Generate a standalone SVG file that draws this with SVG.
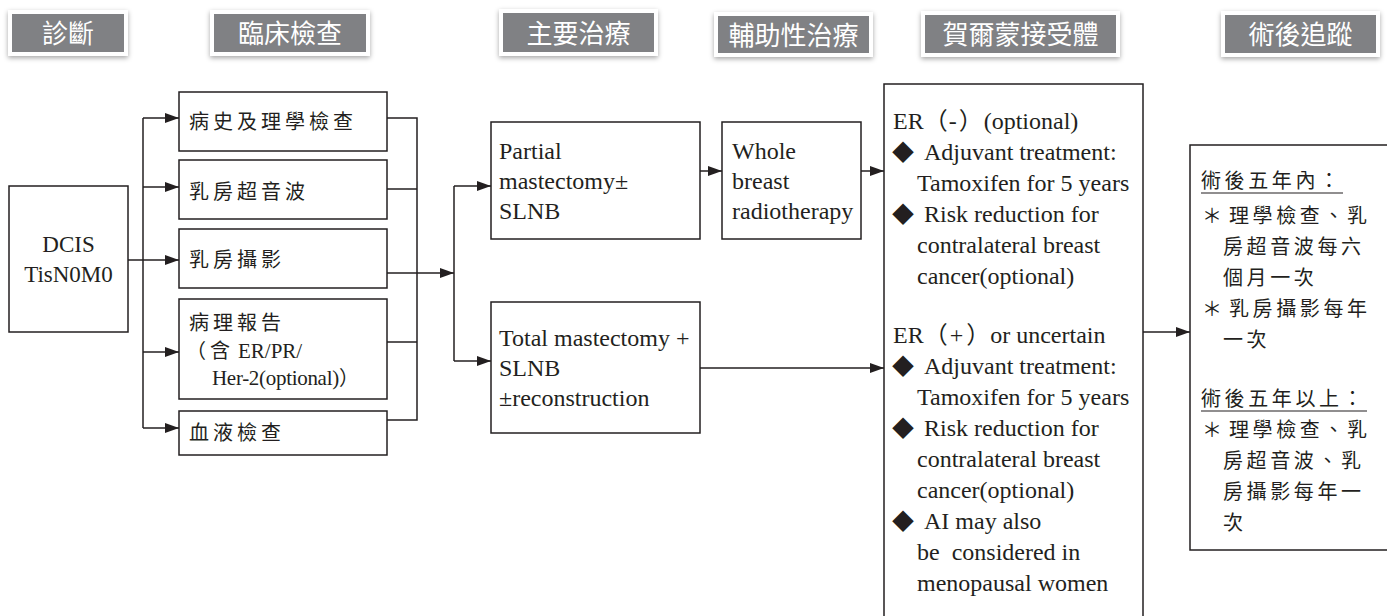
<svg xmlns="http://www.w3.org/2000/svg" width="1387" height="616" viewBox="0 0 1387 616">
<style>
.box{fill:#fff;stroke:#231f20;stroke-width:1.5}
.ln{fill:none;stroke:#231f20;stroke-width:1.5}
.ar{fill:none;stroke:#231f20;stroke-width:1.5;marker-end:url(#ah)}
.en{font-family:"Liberation Serif","Noto Sans CJK TC",serif;font-size:24px;fill:#231f20}
.cj{font-family:"Liberation Serif","Noto Sans CJK TC",sans-serif;font-size:20px;letter-spacing:4px;fill:#231f20}
.fu{font-family:"Liberation Serif","Noto Sans CJK TC",sans-serif;font-size:20px;letter-spacing:3.6px;fill:#231f20}
.dm{font-family:"Noto Sans CJK TC","DejaVu Sans",sans-serif;font-size:22px;fill:#231f20}
.pr{font-family:"Noto Sans CJK TC",sans-serif;font-size:24px}
.hr{fill:#808184;stroke:#fff;stroke-width:4;filter:url(#sh)}
.ht{font-family:"Noto Sans CJK TC",sans-serif;font-size:26px;fill:#fff;text-anchor:middle}
.ul{stroke:#231f20;stroke-width:1.2}
</style>
<defs>
<marker id="ah" markerUnits="userSpaceOnUse" markerWidth="14" markerHeight="10" refX="14" refY="5" orient="auto">
<path d="M0,0 L14,5 L0,10 z" fill="#231f20"/>
</marker>
<filter id="sh" x="-20%" y="-40%" width="140%" height="180%">
<feDropShadow dx="0" dy="2" stdDeviation="2.5" flood-color="#000" flood-opacity="0.35"/>
</filter>
</defs>
<rect width="1387" height="616" fill="#fff"/>

<g id="headers">
<g id="h1"><rect class="hr" x="10" y="12" width="116" height="42"/><text class="ht" x="68" y="43">診斷</text></g>
<g id="h2"><rect class="hr" x="212" y="12" width="156" height="42"/><text class="ht" x="290" y="43">臨床檢查</text></g>
<g id="h3"><rect class="hr" x="501" y="11" width="155" height="43"/><text class="ht" x="578.5" y="43">主要治療</text></g>
<g id="h4"><rect class="hr" x="716" y="14" width="155" height="41"/><text class="ht" x="793.5" y="45">輔助性治療</text></g>
<g id="h5"><rect class="hr" x="923" y="13" width="195" height="42"/><text class="ht" x="1020.5" y="44">賀爾蒙接受體</text></g>
<g id="h6"><rect class="hr" x="1223" y="13" width="155" height="42"/><text class="ht" x="1300.5" y="44">術後追蹤</text></g>
</g>

<g id="connectors">
<path class="ar" d="M128,260 H179"/>
<path class="ln" d="M143,118 V428"/>
<path class="ar" d="M143,118 H179"/>
<path class="ar" d="M143,187 H179"/>
<path class="ar" d="M143,352 H179"/>
<path class="ar" d="M143,428 H179"/>
<path class="ln" d="M387,118 H417 V420 H387"/>
<path class="ln" d="M387,189 H417"/>
<path class="ln" d="M387,342 H417"/>
<path class="ar" d="M387,273 H454"/>
<path class="ln" d="M454,186 V361"/>
<path class="ar" d="M454,186 H491"/>
<path class="ar" d="M454,361 H491"/>
<path class="ar" d="M700,171 H722"/>
<path class="ar" d="M861,171 H884"/>
<path class="ar" d="M700,368 H884"/>
<path class="ar" d="M1143,332 H1190"/>
</g>

<g id="dcis">
<rect class="box" x="9" y="186" width="119" height="146"/>
<text class="en" style="font-size:23px" x="68.5" y="252" text-anchor="middle">DCIS</text>
<text class="en" style="font-size:23px" x="68.5" y="282" text-anchor="middle">TisN0M0</text>
</g>

<g id="exam1"><rect class="box" x="179" y="92" width="208" height="59"/><text class="cj" x="189" y="129">病史及理學檢查</text></g>
<g id="exam2"><rect class="box" x="179" y="160" width="208" height="59"/><text class="cj" x="189" y="199">乳房超音波</text></g>
<g id="exam3"><rect class="box" x="179" y="229" width="208" height="59"/><text class="cj" x="189" y="267">乳房攝影</text></g>
<g id="exam4"><rect class="box" x="179" y="299" width="208" height="100"/>
<text class="cj" x="189" y="330">病理報告</text>
<text class="cj" style="letter-spacing:0" y="358"><tspan x="186">（</tspan><tspan x="210">含</tspan><tspan x="238" style="font-size:21px">ER/PR/</tspan></text>
<text class="cj" style="letter-spacing:0" y="385"><tspan x="212" style="font-size:21px;letter-spacing:-0.3px">Her-2(optional)</tspan><tspan>）</tspan></text>
</g>
<g id="exam5"><rect class="box" x="179" y="411" width="208" height="44"/><text class="cj" x="189" y="440">血液檢查</text></g>

<g id="partial"><rect class="box" x="491" y="122" width="209" height="117"/>
<text class="en" x="499" y="159">Partial</text>
<text class="en" x="499" y="189">mastectomy±</text>
<text class="en" x="499" y="219">SLNB</text></g>

<g id="whole"><rect class="box" x="722" y="122" width="139" height="117"/>
<text class="en" x="732" y="159">Whole</text>
<text class="en" x="732" y="189">breast</text>
<text class="en" x="732" y="219">radiotherapy</text></g>

<g id="total"><rect class="box" x="491" y="302" width="209" height="131"/>
<text class="en" x="499" y="346">Total mastectomy +</text>
<text class="en" x="499" y="376">SLNB</text>
<text class="en" x="499" y="406">±reconstruction</text></g>

<g id="hormone"><rect class="box" x="884" y="84" width="259" height="545"/>
<text class="en" x="893" y="129">ER<tspan class="pr">（</tspan><tspan dx="1">-</tspan><tspan class="pr" dx="2">）</tspan><tspan dx="1">(optional)</tspan></text>
<text class="dm" x="892" y="160">◆</text><text class="en" x="924" y="160">Adjuvant treatment:</text>
<text class="en" x="917" y="191">Tamoxifen for 5 years</text>
<text class="dm" x="892" y="222">◆</text><text class="en" x="924" y="222">Risk reduction for</text>
<text class="en" x="917" y="253">contralateral breast</text>
<text class="en" x="917" y="284">cancer(optional)</text>
<text class="en" x="893" y="343">ER<tspan class="pr">（</tspan><tspan dx="2">+</tspan><tspan class="pr" dx="3">）</tspan>or uncertain</text>
<text class="dm" x="892" y="374">◆</text><text class="en" x="924" y="374">Adjuvant treatment:</text>
<text class="en" x="917" y="405">Tamoxifen for 5 years</text>
<text class="dm" x="892" y="436">◆</text><text class="en" x="924" y="436">Risk reduction for</text>
<text class="en" x="917" y="467">contralateral breast</text>
<text class="en" x="917" y="498">cancer(optional)</text>
<text class="dm" x="892" y="529">◆</text><text class="en" x="924" y="529">AI may also</text>
<text class="en" x="917" y="560" xml:space="preserve">be  considered in</text>
<text class="en" x="917" y="591">menopausal women</text>
</g>

<g id="followup"><rect class="box" x="1190" y="145" width="220" height="405"/>
<text class="fu" x="1201" y="188">術後五年內：</text>
<line class="ul" x1="1201" y1="193" x2="1343" y2="193"/>
<text class="fu" x="1202" y="223">＊</text><text class="fu" x="1229" y="223">理學檢查、乳</text>
<text class="fu" x="1223" y="254">房超音波每六</text>
<text class="fu" x="1223" y="285">個月一次</text>
<text class="fu" x="1202" y="316">＊</text><text class="fu" x="1229" y="316">乳房攝影每年</text>
<text class="fu" x="1223" y="347">一次</text>
<text class="fu" x="1201" y="406">術後五年以上：</text>
<line class="ul" x1="1201" y1="411" x2="1367" y2="411"/>
<text class="fu" x="1202" y="437">＊</text><text class="fu" x="1229" y="437">理學檢查、乳</text>
<text class="fu" x="1223" y="468">房超音波、乳</text>
<text class="fu" x="1223" y="499">房攝影每年一</text>
<text class="fu" x="1223" y="530">次</text>
</g>
</svg>
